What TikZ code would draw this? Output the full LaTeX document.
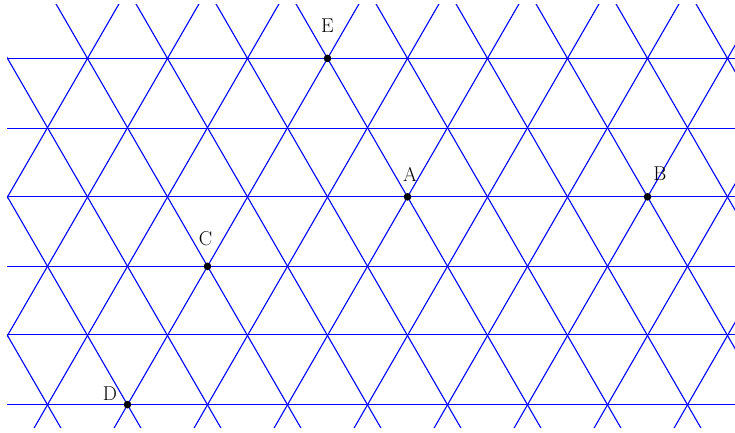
\documentclass[tikz,border=0pt]{standalone}
\begin{document}
\begin{tikzpicture}[x=1pt,y=-1pt,
  gridline/.style={blue, line width=1.1pt},
  ptdot/.style={fill=black},
  lbl/.style={font=\fontsize{20}{24}\selectfont, inner sep=0pt, anchor=center}]
\useasboundingbox (0,0) rectangle (735,432);
\begin{scope}
  \clip (7.2,4) rectangle (735,427.5);
  \foreach \yy in {58.5,128.5,196.5,266.5,334.5,404.5}
    \draw[gridline] (7.2,\yy) -- (735,\yy);
  \foreach \k in {-3,...,9}
    \draw[gridline] (7.5+80*\k-40,-10.882) -- (7.5+80*\k+240,474.092);
  \foreach \k in {1,...,11}
    \draw[gridline] (7.5+80*\k+40,-10.882) -- (7.5+80*\k-240,474.092);
\end{scope}
\coordinate (A) at (407.5,196.8);
\coordinate (B) at (647.5,196.8);
\coordinate (C) at (207.5,266.3);
\coordinate (D) at (127.5,404.6);
\coordinate (E) at (327.5,58.4);
\foreach \p in {A,B,C,D,E}
  \fill[ptdot] (\p) circle (3.8);
\node[lbl] (labA) at ([shift={(2.5,-22.5)}]A) {A};
\node[lbl] (labB) at ([shift={(12.5,-23.5)}]B) {B};
\node[lbl] (labC) at ([shift={(-2,-27.8)}]C) {C};
\node[lbl] (labD) at ([shift={(-17.5,-11)}]D) {D};
\node[lbl] (labE) at ([shift={(0,-32.5)}]E) {E};
\end{tikzpicture}
\end{document}
